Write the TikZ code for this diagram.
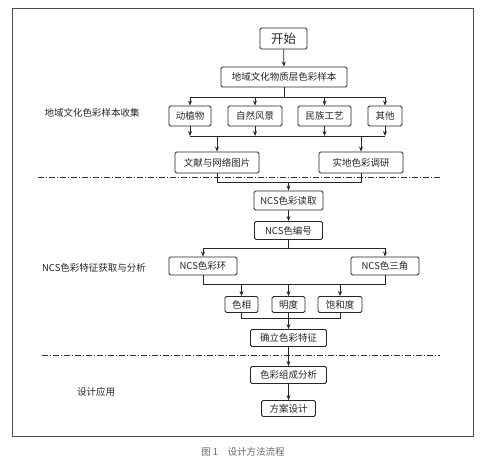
\documentclass[tikz,border=0pt]{standalone}
\usepackage{fontspec}
\newfontfamily\cjk{Noto Sans CJK SC}
\usetikzlibrary{arrows.meta}
\begin{document}
\begin{tikzpicture}[x=1pt,y=-1pt,
  box/.style={draw=black!85, line width=0.9pt, rounded corners=1.5pt, inner sep=0pt,
    font=\cjk\fontsize{9.5}{10}\selectfont, text=black!85},
  arr/.style={draw=black!85, line width=0.8pt, -{Stealth[length=5pt,width=4pt]}},
  ln/.style={draw=black!85, line width=0.8pt},
  sep/.style={draw=black!80, line width=0.8pt, dash pattern=on 6pt off 2pt on 1pt off 2pt},
  lab/.style={font=\cjk\fontsize{9.5}{10}\selectfont, text=black!85}]
\useasboundingbox (0,0) rectangle (500,460);
\draw[line width=0.9pt, black!70] (12.5,8.5) rectangle (473,436);

\node[box, minimum width=47pt, minimum height=21pt, font=\cjk\fontsize{12.5}{13}\selectfont] (s) at (283.5,38.5) {开始};
\node[box, minimum width=126pt, minimum height=20pt] (n1) at (284,77) {地域文化物质层色彩样本};
\node[box, minimum width=42pt, minimum height=20pt] (a) at (190,116) {动植物};
\node[box, minimum width=54pt, minimum height=20pt] (b) at (255,116) {自然风景};
\node[box, minimum width=53pt, minimum height=20pt] (c) at (324.5,116) {民族工艺};
\node[box, minimum width=34pt, minimum height=20pt] (d) at (385,116) {其他};
\node[box, minimum width=84pt, minimum height=21pt] (e) at (217,162.5) {文献与网络图片};
\node[box, minimum width=84pt, minimum height=21pt] (f) at (361,162.5) {实地色彩调研};
\node[box, minimum width=69pt, minimum height=19pt] (g) at (288.5,200.5) {NCS色彩读取};
\node[box, minimum width=68pt, minimum height=18pt] (h) at (288.5,230.5) {NCS色编号};
\node[box, minimum width=68pt, minimum height=18pt] (i) at (203,266) {NCS色彩环};
\node[box, minimum width=68pt, minimum height=18pt] (j) at (385,266) {NCS色三角};
\node[box, minimum width=33pt, minimum height=16pt] (k) at (241.5,304.5) {色相};
\node[box, minimum width=33pt, minimum height=16pt] (l) at (288.5,304.5) {明度};
\node[box, minimum width=44pt, minimum height=16pt] (m) at (340,304.5) {饱和度};
\node[box, minimum width=76pt, minimum height=17pt] (o) at (288.5,338) {确立色彩特征};
\node[box, minimum width=76pt, minimum height=17pt] (p) at (288.5,375) {色彩组成分析};
\node[box, minimum width=54pt, minimum height=16pt] (q) at (288.5,408.5) {方案设计};

\node[lab] (L1) at (92,113) {地域文化色彩样本收集};
\node[lab] (L2) at (94,268) {NCS色彩特征获取与分析};
\node[lab] (L3) at (96,392) {设计应用};
\node[font=\cjk\fontsize{9.5}{10}\selectfont, text=black!60] (cap) at (243,452) {图 1\quad 设计方法流程};

\coordinate (y1) at (0,97);
\coordinate (y2) at (0,136);
\coordinate (y3) at (0,182);
\coordinate (y4) at (0,248);
\coordinate (y5) at (0,284);
\coordinate (y6) at (0,318);

\draw[sep] (38,177) -- (440,177);
\draw[sep] (42,355) -- (440,355);

\draw[arr] (s) -- (n1);
\draw[ln] (n1.south) -- (n1.south |- y1);
\draw[ln] (a.north |- y1) -- (d.north |- y1);
\foreach \n in {a,b,c,d} {\draw[arr] (\n.north |- y1) -- (\n.north);}
\foreach \n in {a,b,c,d} {\draw[arr] (\n.south) -- (\n.south |- y2);}
\draw[ln] (a.south |- y2) -- (d.south |- y2);
\draw[arr] (e.north |- y2) -- (e.north);
\draw[arr] (f.north |- y2) -- (f.north);

\draw[ln] (e.south) -- (e.south |- y3) -- (f.south |- y3) -- (f.south);
\draw[arr] (g.north |- y3) -- (g.north);
\draw[arr] (g) -- (h);
\draw[ln] (h.south) -- (h.south |- y4);
\draw[ln] (i.north |- y4) -- (j.north |- y4);
\draw[arr] (i.north |- y4) -- (i.north);
\draw[arr] (j.north |- y4) -- (j.north);
\draw[ln] (i.south) -- (i.south |- y5) -- (j.south |- y5) -- (j.south);
\foreach \n in {k,l,m} {\draw[arr] (\n.north |- y5) -- (\n.north);}
\draw[ln] (k.south) -- (k.south |- y6) -- (m.south |- y6) -- (m.south);
\draw[ln] (l.south) -- (l.south |- y6);
\draw[arr] (o.north |- y6) -- (o.north);
\draw[arr] (o) -- (p);
\draw[arr] (p) -- (q);
\end{tikzpicture}
\end{document}
